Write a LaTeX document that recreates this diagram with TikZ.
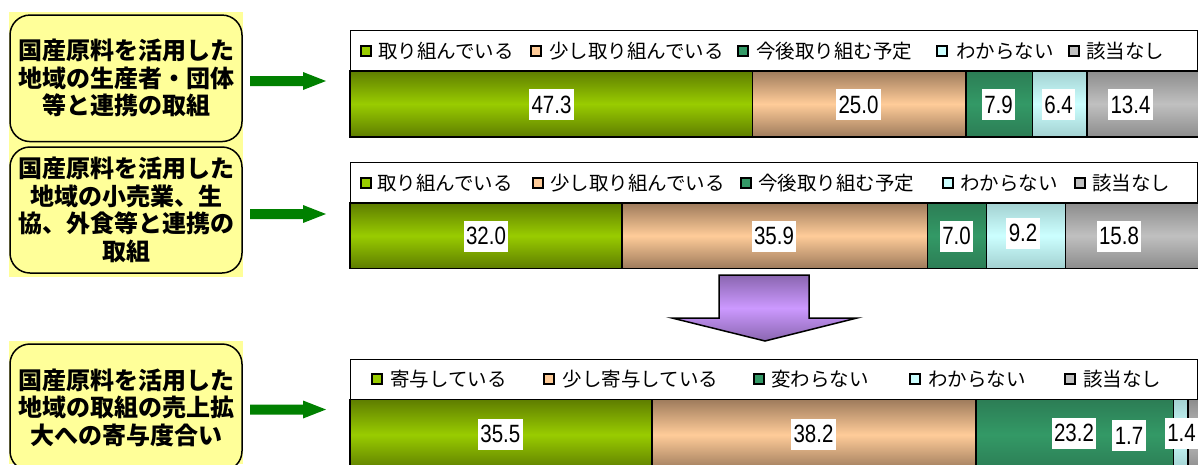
\documentclass[tikz,border=0pt]{standalone}
\usepackage{fontspec}
\newfontfamily\jpfont{Noto Sans CJK JP}
\newfontfamily\numfont[FakeStretch=0.82]{Liberation Sans}
\definecolor{paleyellow}{HTML}{FFFF99}
\definecolor{arrowgreen}{HTML}{008000}
\definecolor{lime}{HTML}{99CC00}
\definecolor{limedark}{HTML}{5E7D00}
\definecolor{peach}{HTML}{FFCC99}
\definecolor{peachdark}{HTML}{9E7B5C}
\definecolor{teal}{HTML}{339966}
\definecolor{tealdark}{HTML}{2C7D55}
\definecolor{pale}{HTML}{CCFFFF}
\definecolor{paledark}{HTML}{A3D1D1}
\definecolor{silver}{HTML}{C0C0C0}
\definecolor{silverdark}{HTML}{8C8C8C}
\definecolor{lilac}{HTML}{CC99FF}
\definecolor{lilacdark}{HTML}{8A66B0}
\begin{document}
\begin{tikzpicture}[x=1pt,y=-1pt,
  topic/.style={draw=black, line width=1.5pt, rounded corners=20pt, fill=paleyellow,
    minimum width=232pt, align=center, font=\jpfont\bfseries\fontsize{24pt}{27.5pt}\selectfont},
  goarrow/.style={fill=arrowgreen},
  downarrow/.style={draw=black, line width=1.5pt, top color=lilacdark, bottom color=lilacdark, middle color=lilac},
  frame/.style={draw=black, line width=1pt, fill=white},
  seg/.style={draw=black, line width=1.6pt},
  limebar/.style={top color=limedark, bottom color=limedark, middle color=lime},
  peachbar/.style={top color=peachdark, bottom color=peachdark, middle color=peach},
  tealbar/.style={top color=tealdark, bottom color=tealdark, middle color=teal},
  palebar/.style={top color=paledark, bottom color=paledark, middle color=pale},
  silverbar/.style={top color=silverdark, bottom color=silverdark, middle color=silver},
  key/.style={draw=black, line width=1.4pt, minimum size=10pt, inner sep=0pt},
  keytext/.style={anchor=west, inner sep=0pt, font=\jpfont\fontsize{19.5pt}{19.5pt}\selectfont},
  val/.style={fill=white, inner xsep=2.5pt, inner ysep=0pt, minimum height=31pt,
    font=\numfont\fontsize{25pt}{25pt}\selectfont}]
\useasboundingbox (0,0) rectangle (1198,464);
\clip (0,0) rectangle (1198,464);

\fill[paleyellow] (9,12) rectangle (243,277);
\fill[paleyellow] (9,341) rectangle (243,464);
\node[topic, minimum height=126.5pt] (box1) at (126,78.3) {国産原料を活用した\\地域の生産者・団体\\等と連携の取組};
\node[topic, minimum height=126pt] (box2) at (126,210) {国産原料を活用した\\地域の小売業、生\\協、外食等と連携の\\取組};
\node[topic, minimum height=127pt] (box3) at (126,407.5) {国産原料を活用した\\地域の取組の売上拡\\大への寄与度合い};

\fill[goarrow, shift={(0,81)}] (250,-5) -- (303,-5) -- (303,-9) -- (326,0) -- (303,9) -- (303,5) -- (250,5) -- cycle;
\fill[goarrow, shift={(0,214)}] (250,-5) -- (303,-5) -- (303,-9) -- (326,0) -- (303,9) -- (303,5) -- (250,5) -- cycle;
\fill[goarrow, shift={(0,409.5)}] (250,-5) -- (303,-5) -- (303,-9) -- (326,0) -- (303,9) -- (303,5) -- (250,5) -- cycle;

\draw[downarrow] (719,275) -- (809,275) -- (809,318) -- (857,318) -- (765,341) -- (672,318) -- (719,318) -- cycle;

\draw[frame] (350,30.7) rectangle (1197,70.7);
\node[key, fill=lime] (k11) at (366,51) {};
\node[keytext] (t11) at (378,51) {取り組んでいる};
\node[key, fill=peach] (k12) at (536,51) {};
\node[keytext] (t12) at (549,51) {少し取り組んでいる};
\node[key, fill=teal] (k13) at (743,51) {};
\node[keytext] (t13) at (756,51) {今後取り組む予定};
\node[key, fill=pale] (k14) at (942,51) {};
\node[keytext] (t14) at (956,51) {わからない};
\node[key, fill=silver] (k15) at (1074,51) {};
\node[keytext] (t15) at (1086,51) {該当なし};
\draw[seg, limebar] (350,70.7) rectangle (752.5,137);
\draw[seg, peachbar] (752.5,70.7) rectangle (965.7,137);
\draw[seg, tealbar] (965.7,70.7) rectangle (1032.5,137);
\draw[seg, palebar] (1032.5,70.7) rectangle (1087,137);
\draw[seg, silverbar] (1087,70.7) rectangle (1201,137);
\node[val] (v11) at (551.5,104.8) {47.3};
\node[val] (v12) at (858.5,104.8) {25.0};
\node[val] (v13) at (998.5,104.8) {7.9};
\node[val] (v14) at (1058.5,104.8) {6.4};
\node[val] (v15) at (1130.5,104.8) {13.4};

\draw[frame] (350,162.8) rectangle (1197,203);
\node[key, fill=lime] (k21) at (366,183) {};
\node[keytext] (t21) at (377,183) {取り組んでいる};
\node[key, fill=peach] (k22) at (538,183) {};
\node[keytext] (t22) at (550,183) {少し取り組んでいる};
\node[key, fill=teal] (k23) at (746,183) {};
\node[keytext] (t23) at (758,183) {今後取り組む予定};
\node[key, fill=pale] (k24) at (948,183) {};
\node[keytext] (t24) at (960,183) {わからない};
\node[key, fill=silver] (k25) at (1080,183) {};
\node[keytext] (t25) at (1092,183) {該当なし};
\draw[seg, limebar] (350,203) rectangle (622,268.3);
\draw[seg, peachbar] (622,203) rectangle (927.5,268.3);
\draw[seg, tealbar] (927.5,203) rectangle (986.5,268.3);
\draw[seg, palebar] (986.5,203) rectangle (1065.5,268.3);
\draw[seg, silverbar] (1065.5,203) rectangle (1201,268.3);
\node[val] (v21) at (486,236) {32.0};
\node[val] (v22) at (774,236) {35.9};
\node[val] (v23) at (956.5,236) {7.0};
\node[val] (v24) at (1023,233) {9.2};
\node[val] (v25) at (1119,236) {15.8};

\draw[frame] (350,359.3) rectangle (1197,399.3);
\node[key, fill=lime] (k31) at (377,379) {};
\node[keytext] (t31) at (390,379) {寄与している};
\node[key, fill=peach] (k32) at (549,379) {};
\node[keytext] (t32) at (562.5,379) {少し寄与している};
\node[key, fill=teal] (k33) at (759,379) {};
\node[keytext] (t33) at (771,379) {変わらない};
\node[key, fill=pale] (k34) at (915,379) {};
\node[keytext] (t34) at (928,379) {わからない};
\node[key, fill=silver] (k35) at (1070,379) {};
\node[keytext] (t35) at (1083,379) {該当なし};
\draw[seg, limebar] (350,399.3) rectangle (651.7,470);
\draw[seg, peachbar] (651.7,399.3) rectangle (976,470);
\draw[seg, tealbar] (976,399.3) rectangle (1173.5,470);
\draw[seg, palebar] (1173.5,399.3) rectangle (1188,470);
\draw[seg, silverbar] (1188,399.3) rectangle (1201,470);
\node[val] (v31) at (500.3,434) {35.5};
\node[val] (v32) at (813.5,434) {38.2};
\node[val] (v33) at (1074,433) {23.2};
\node[val] (v34) at (1129,435.5) {1.7};
\node[val] (v35) at (1181.5,433) {1.4};
\end{tikzpicture}
\end{document}
